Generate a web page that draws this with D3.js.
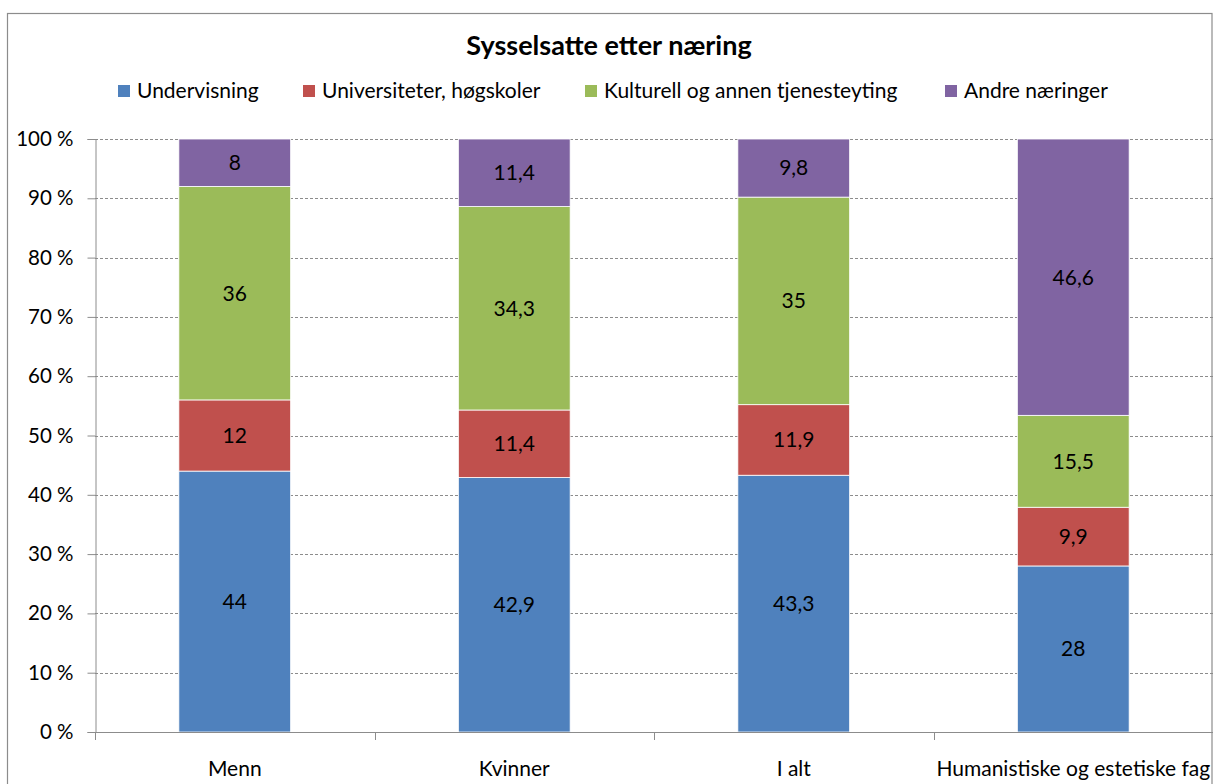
<!DOCTYPE html>
<html><head><meta charset="utf-8">
<script src="https://cdn.jsdelivr.net/npm/d3@7"></script>
<style>body{margin:0;background:#fff;} svg{display:block;}</style>
</head><body>
<svg id="c" width="1214" height="784"></svg>
<script>
const categories = ["Menn", "Kvinner", "I alt", "Humanistiske og estetiske fag"];
const seriesNames = ["Undervisning", "Universiteter, høgskoler", "Kulturell og annen tjenesteyting", "Andre næringer"];
const undervisning = [44, 42.9, 43.3, 28];
const universiteter = [12, 11.4, 11.9, 9.9];
const kulturell = [36, 34.3, 35, 15.5];
const andre = [8, 11.4, 9.8, 46.6];
const colors = ["#4F81BD", "#C0504D", "#9BBB59", "#8064A2"];
const yTicks = [0, 10, 20, 30, 40, 50, 60, 70, 80, 90, 100];

const font = "Lato, 'Open Sans', sans-serif";
const fs = 21;
const svg = d3.select("#c");
const m = {left: 95, right: 1213, top: 139, bottom: 732};

svg.append("rect").attr("x", 7.5).attr("y", 13.5).attr("width", 1204.5).attr("height", 790)
  .attr("fill", "#fff").attr("stroke", "#8c8c8c").attr("stroke-width", 1.2);

const x = d3.scaleBand().domain(categories).range([m.left, m.right]).paddingInner(0.6).paddingOuter(0.3);
const y = d3.scaleLinear().domain([0, 100]).range([m.bottom, m.top]);

// grid
svg.append("g").selectAll("line").data(yTicks.filter(d => d > 0)).join("line")
  .attr("x1", m.left).attr("x2", m.right)
  .attr("y1", d => Math.round(y(d)) + 0.5).attr("y2", d => Math.round(y(d)) + 0.5)
  .attr("stroke", "#8c8c8c").attr("stroke-dasharray", "3,2").attr("stroke-width", 1);

const rows = categories.map((c, i) => ({cat: c, s0: undervisning[i], s1: universiteter[i], s2: kulturell[i], s3: andre[i]}));
const stack = d3.stack().keys(["s0", "s1", "s2", "s3"])(rows);

const g = svg.append("g");
stack.forEach((layer, li) => {
  g.selectAll(null).data(layer).join("rect")
    .attr("x", d => x(d.data.cat))
    .attr("width", x.bandwidth())
    .attr("y", d => y(d[1]))
    .attr("height", d => y(d[0]) - y(d[1]))
    .attr("fill", colors[li])
    .attr("stroke", "#fff").attr("stroke-width", 0.8);
  g.selectAll(null).data(layer).join("text")
    .attr("x", d => x(d.data.cat) + x.bandwidth() / 2)
    .attr("y", d => (y(d[0]) + y(d[1])) / 2)
    .attr("dy", "0.35em")
    .attr("text-anchor", "middle")
    .attr("font-family", font).attr("font-size", fs).attr("fill", "#000")
    .text(d => String(+(d[1] - d[0]).toFixed(1)).replace(".", ","));
});

// y axis
const yAxis = d3.axisLeft(y).tickValues(yTicks).tickSize(8).tickPadding(14).tickFormat(d => d + " %");
const ya = svg.append("g").attr("transform", `translate(${m.left + 0.5},0)`).call(yAxis);
ya.selectAll("path").attr("stroke", "#8c8c8c");
ya.selectAll("line").attr("stroke", "#8c8c8c");
ya.selectAll("text").attr("font-family", font).attr("font-size", fs - 0.5).attr("fill", "#000");

// x axis
const xa = svg.append("g").attr("transform", `translate(0,${m.bottom + 0.5})`)
  .call(d3.axisBottom(x).tickSize(0).tickPadding(29));
xa.select("path").remove();
xa.selectAll("text").attr("font-family", font).attr("font-size", fs).attr("fill", "#000");
svg.append("line").attr("x1", m.left).attr("x2", m.right).attr("y1", m.bottom + 0.5).attr("y2", m.bottom + 0.5).attr("stroke", "#8c8c8c");
const bounds = [0, 1, 2, 3].map(i => m.left + i * (m.right - m.left) / 4);
svg.append("g").selectAll("line").data(bounds).join("line")
  .attr("x1", d => Math.round(d) + 0.5).attr("x2", d => Math.round(d) + 0.5)
  .attr("y1", m.bottom).attr("y2", m.bottom + 8).attr("stroke", "#8c8c8c");

// title
svg.append("text").attr("x", 609).attr("y", 55).attr("text-anchor", "middle")
  .attr("font-family", font).attr("font-weight", "bold").attr("font-size", 27).text("Sysselsatte etter næring");

// legend
const legX = [118, 303, 585, 945];
const lg = svg.append("g");
seriesNames.forEach((n, i) => {
  lg.append("rect").attr("x", legX[i]).attr("y", 85).attr("width", 12).attr("height", 12).attr("fill", colors[i]);
  lg.append("text").attr("x", legX[i] + 19).attr("y", 91).attr("dy", "0.35em")
    .attr("font-family", font).attr("font-size", fs).text(n);
});
</script>
</body></html>
